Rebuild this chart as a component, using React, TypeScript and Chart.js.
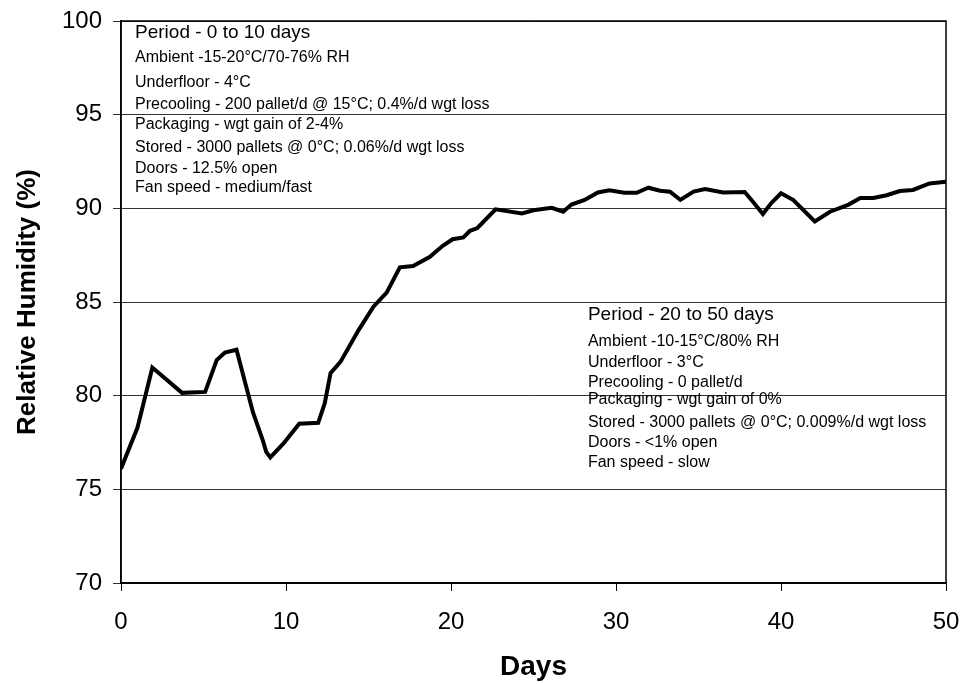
import React, { useEffect, useRef } from "react";
import { Chart, registerables } from "chart.js";

Chart.register(...registerables);

const days: number[] = [
  0, 1, 1.9, 3.7, 5.1, 5.8, 6.3, 7, 8, 8.6, 8.8, 9.05, 9.85, 10.8, 11.95, 12.35, 12.7, 13.3,
  14.4, 15.3, 16.1, 16.9, 17.7, 18.7, 19.5, 20.1, 20.75, 21.15, 21.6, 22.7, 24.3, 25, 26.1,
  26.8, 27.3, 28.1, 28.9, 29.6, 30.5, 31.25, 31.96, 32.67, 33.27, 33.9, 34.7, 35.4, 36.5,
  37.8, 38.3, 38.9, 39.4, 40.0, 40.75, 42.05, 42.97, 44.1, 44.8, 45.6, 46.4, 47.2, 48, 49, 50,
];
const humidity: number[] = [
  76.1, 78.3, 81.5, 80.15, 80.2, 81.9, 82.3, 82.45, 79.1, 77.6, 77.0, 76.7, 77.45, 78.5,
  78.55, 79.6, 81.2, 81.8, 83.5, 84.75, 85.5, 86.85, 86.92, 87.4, 88.0, 88.35, 88.45, 88.8,
  88.95, 89.95, 89.73, 89.9, 90.03, 89.82, 90.2, 90.45, 90.85, 90.96, 90.83, 90.83, 91.1,
  90.94, 90.89, 90.45, 90.89, 91.03, 90.85, 90.87, 90.35, 89.7, 90.27, 90.8, 90.44, 89.3,
  89.82, 90.2, 90.55, 90.55, 90.7, 90.92, 90.98, 91.33, 91.42,
];
const xTicks: number[] = [0, 10, 20, 30, 40, 50];
const yTicks: number[] = [70, 75, 80, 85, 90, 95, 100];

const noteEarlyTitle = "Period - 0 to 10 days";
const noteEarly: string[] = [
  "Ambient -15-20°C/70-76% RH",
  "Underfloor - 4°C",
  "Precooling - 200 pallet/d @ 15°C; 0.4%/d wgt loss",
  "Packaging - wgt gain of 2-4%",
  "Stored - 3000 pallets @ 0°C; 0.06%/d wgt loss",
  "Doors - 12.5% open",
  "Fan speed - medium/fast",
];
const noteLateTitle = "Period - 20 to 50 days";
const noteLate: string[] = [
  "Ambient -10-15°C/80% RH",
  "Underfloor - 3°C",
  "Precooling - 0 pallet/d",
  "Packaging - wgt gain of 0%",
  "Stored - 3000 pallets @ 0°C; 0.009%/d wgt loss",
  "Doors - <1% open",
  "Fan speed - slow",
];

const FONT = "'Liberation Sans', Arial, Helvetica, sans-serif";

const annotationPlugin = {
  id: "notes",
  afterDatasetsDraw(chart: any) {
    const { ctx, chartArea } = chart;
    ctx.save();
    ctx.strokeStyle = "#000";
    ctx.lineWidth = 1.5;
    ctx.strokeRect(chartArea.left, chartArea.top, chartArea.right - chartArea.left, chartArea.bottom - chartArea.top);
    const xs = chart.scales.x;
    const ys = chart.scales.y;
    const drawBlock = (dx: number, dy: number, title: string, lines: string[], offs: number[]) => {
      const x0 = xs.getPixelForValue(dx);
      const y0 = ys.getPixelForValue(dy);
      ctx.fillStyle = "#000";
      ctx.textAlign = "left";
      ctx.textBaseline = "middle";
      ctx.font = `19px ${FONT}`;
      ctx.fillText(title, x0, y0);
      ctx.font = `16px ${FONT}`;
      lines.forEach((l, i) => ctx.fillText(l, x0, y0 + offs[i]));
    };
    drawBlock(0.85, 99.36, noteEarlyTitle, noteEarly, [25, 50, 72, 92, 115, 136, 155]);
    drawBlock(28.3, 84.31, noteLateTitle, noteLate, [27, 48, 68, 85, 108, 128, 148]);
    ctx.restore();
  },
};

export default function App() {
  const ref = useRef<HTMLCanvasElement | null>(null);
  useEffect(() => {
    if (!ref.current) return;
    const chart = new Chart(ref.current, {
      type: "line",
      data: {
        datasets: [
          {
            data: days.map((d, i) => ({ x: d, y: humidity[i] })),
            borderColor: "#000",
            borderWidth: 4,
            pointRadius: 0,
            tension: 0,
            fill: false,
          },
        ],
      },
      options: {
        animation: false,
        responsive: false,
        layout: { padding: { top: 21, right: 17, left: 0, bottom: 0 } },
        plugins: { legend: { display: false }, tooltip: { enabled: false } },
        scales: {
          x: {
            type: "linear",
            min: 0,
            max: 50,
            afterBuildTicks: (s: any) => {
              s.ticks = xTicks.map((v) => ({ value: v }));
            },
            afterFit: (s: any) => {
              s.height = 101;
              s.paddingLeft = 0;
              s.paddingRight = 0;
            },
            ticks: { color: "#000", font: { family: FONT, size: 24 }, padding: 17, maxRotation: 0 },
            grid: { drawOnChartArea: false, drawTicks: true, tickLength: 8, color: "#000" },
            border: { display: true, color: "#000", width: 1.5 },
            title: {
              display: true,
              text: "Days",
              color: "#000",
              font: { family: FONT, size: 28, weight: "bold" },
              padding: { top: 0, bottom: 0 },
            },
          },
          y: {
            min: 70,
            max: 100,
            afterBuildTicks: (s: any) => {
              s.ticks = yTicks.map((v) => ({ value: v }));
            },
            afterFit: (s: any) => {
              s.width = 121;
              s.paddingTop = 0;
              s.paddingBottom = 0;
            },
            ticks: { color: "#000", font: { family: FONT, size: 24 }, padding: 11 },
            grid: { color: "#333", lineWidth: 1, tickLength: 8, drawTicks: true },
            border: { display: true, color: "#000", width: 1.5 },
            title: {
              display: true,
              text: "Relative Humidity (%)",
              color: "#000",
              font: { family: FONT, size: 26, weight: "bold" },
              padding: { top: 12, bottom: 0 },
            },
          },
        },
      },
      plugins: [annotationPlugin],
    });
    return () => chart.destroy();
  }, []);
  return (
    <div style={{ position: "fixed", left: 0, top: 0, width: 963, height: 684, background: "#fff" }}>
      <canvas ref={ref} width={963} height={684} />
    </div>
  );
}
